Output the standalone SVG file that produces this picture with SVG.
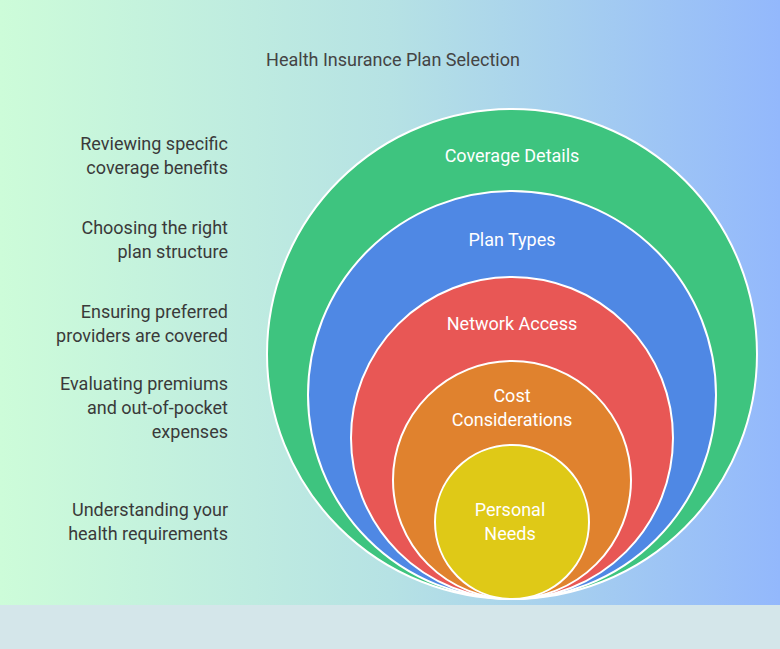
<svg xmlns="http://www.w3.org/2000/svg" width="780" height="649" viewBox="0 0 780 649">
<defs>
<linearGradient id="bg" x1="0" y1="0" x2="1" y2="0">
<stop offset="0" stop-color="#cdfcd9"/><stop offset="0.5" stop-color="#b6e2e4"/><stop offset="1" stop-color="#93b8fc"/>
</linearGradient>
<style>
.c{stroke:#fff;stroke-width:2}
.w{fill:#fff;font-family:Roboto,"Liberation Sans",sans-serif;font-size:18px;text-anchor:middle}
.l{fill:#3a3a3a;font-family:Roboto,"Liberation Sans",sans-serif;font-size:18px;text-anchor:end}
</style>
</defs>
<rect width="780" height="605" fill="url(#bg)"/>
<rect y="605" width="780" height="44" fill="#d4e6ea"/>
<text x="393" y="66" style="fill:#444;font-family:Roboto,'Liberation Sans',sans-serif;font-size:18px;text-anchor:middle">Health Insurance Plan Selection</text>
<g id="coverage"><circle class="c" cx="512" cy="354" r="245" fill="#3ec47f"/><text class="w" x="512" y="162">Coverage Details</text></g>
<g id="plan"><circle class="c" cx="512" cy="395" r="204" fill="#4f88e4"/><text class="w" x="512" y="246">Plan Types</text></g>
<g id="network"><circle class="c" cx="512" cy="438" r="161" fill="#e85755"/><text class="w" x="512" y="330">Network Access</text></g>
<g id="cost"><circle class="c" cx="512" cy="480" r="119" fill="#e0822e"/><text class="w" x="512" y="402">Cost</text><text class="w" x="512" y="426">Considerations</text></g>
<g id="personal"><circle class="c" cx="512" cy="522" r="77" fill="#dfc917"/><text class="w" x="510" y="516">Personal</text><text class="w" x="510" y="540">Needs</text></g>
<g id="labels">
<text class="l" x="228" y="150">Reviewing specific</text><text class="l" x="228" y="174">coverage benefits</text>
<text class="l" x="228" y="234">Choosing the right</text><text class="l" x="228" y="258">plan structure</text>
<text class="l" x="228" y="318">Ensuring preferred</text><text class="l" x="228" y="342">providers are covered</text>
<text class="l" x="228" y="390">Evaluating premiums</text><text class="l" x="228" y="414">and out-of-pocket</text><text class="l" x="228" y="438">expenses</text>
<text class="l" x="228" y="516">Understanding your</text><text class="l" x="228" y="540">health requirements</text>
</g>
<g id="connectors"/>
</svg>
